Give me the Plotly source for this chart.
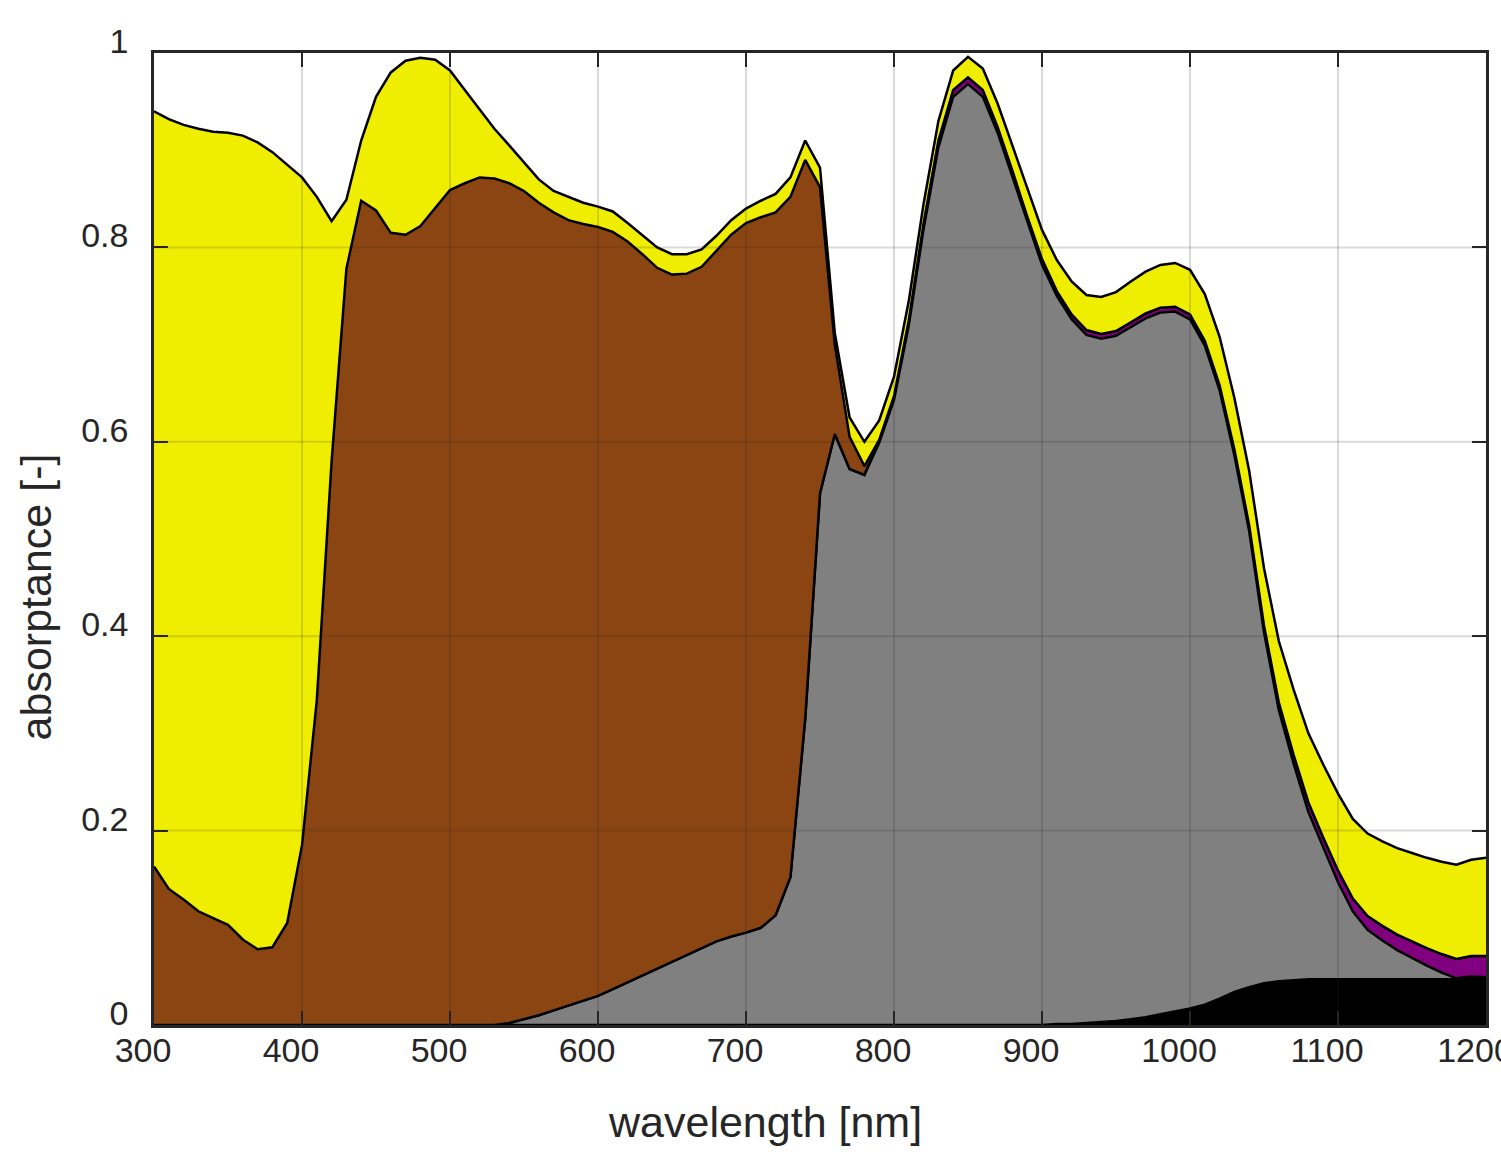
import plotly.graph_objects as go

wavelength = list(range(300, 1201, 10))

black = [0.0] * 61 + [
    0.001, 0.001, 0.002, 0.003, 0.004, 0.006, 0.008, 0.011, 0.014, 0.017,
    0.021, 0.027, 0.034, 0.039, 0.043, 0.045, 0.046, 0.047, 0.047, 0.047,
    0.047, 0.047, 0.047, 0.047, 0.047, 0.047, 0.047, 0.047, 0.047, 0.047]

gray = [0.0] * 24 + [
    0.002, 0.006, 0.010, 0.015, 0.020, 0.025,
    0.030, 0.037, 0.044, 0.051, 0.058, 0.065, 0.072, 0.079, 0.086, 0.091,
    0.095, 0.100, 0.113, 0.152, 0.315, 0.547, 0.608, 0.572, 0.566, 0.599,
    0.643, 0.720, 0.819, 0.903, 0.955, 0.968, 0.955, 0.918, 0.873, 0.826,
    0.782, 0.749, 0.725, 0.708, 0.703, 0.705, 0.712, 0.719, 0.722, 0.720,
    0.709, 0.678, 0.626, 0.552, 0.469, 0.361, 0.279, 0.223, 0.172, 0.135,
    0.100, 0.070, 0.051, 0.040, 0.030, 0.022, 0.014, 0.007, 0.001, 0.003,
    0.002]

purple = [0.0] * 49 + [
    0.003, 0.004, 0.005, 0.006, 0.007, 0.007, 0.007, 0.007, 0.006, 0.006,
    0.006, 0.006, 0.005, 0.005, 0.005, 0.005, 0.005, 0.005, 0.005, 0.005,
    0.005, 0.005, 0.005, 0.005, 0.006, 0.006, 0.007, 0.008, 0.009, 0.010,
    0.011, 0.012, 0.013, 0.014, 0.015, 0.016, 0.017, 0.018, 0.019, 0.020,
    0.021, 0.022]

brown = [
    0.163, 0.140, 0.129, 0.117, 0.110, 0.103, 0.088, 0.078, 0.080, 0.105,
    0.185, 0.334, 0.580, 0.778, 0.848, 0.838, 0.815, 0.813, 0.822, 0.840,
    0.859, 0.866, 0.872, 0.871, 0.864, 0.852, 0.836, 0.821, 0.808, 0.799,
    0.791, 0.779, 0.762, 0.742, 0.721, 0.707, 0.701, 0.701, 0.711, 0.722,
    0.730, 0.731, 0.723, 0.700, 0.575, 0.315, 0.092, 0.033, 0.009] + [0.0] * 42

yellow = [
    0.777, 0.792, 0.797, 0.805, 0.809, 0.815, 0.827, 0.830, 0.818, 0.780,
    0.687, 0.518, 0.247, 0.071, 0.062, 0.117, 0.165, 0.179, 0.173, 0.153,
    0.123, 0.096, 0.070, 0.051, 0.039, 0.030, 0.024, 0.022, 0.024, 0.022,
    0.021, 0.021, 0.019, 0.019, 0.021, 0.021, 0.020, 0.018, 0.015, 0.015,
    0.015, 0.017, 0.019, 0.020, 0.020, 0.020, 0.012, 0.020, 0.025,
    0.020, 0.020, 0.020, 0.020, 0.020, 0.020, 0.021, 0.022, 0.024, 0.026,
    0.028, 0.030,
    0.032, 0.034, 0.036, 0.038, 0.040, 0.042, 0.043, 0.044, 0.045, 0.046,
    0.048, 0.050, 0.053, 0.056, 0.059, 0.063, 0.067, 0.071, 0.075, 0.079,
    0.082, 0.085, 0.087, 0.089, 0.091, 0.093, 0.095, 0.097, 0.099, 0.101]

layer_names = ["black", "gray", "purple", "brown", "yellow"]
layer_values = [black, gray, purple, brown, yellow]
layer_colors = ["#000000", "#808080", "#800080", "#8B4513", "#F0EE00"]

x_ticks = [300, 400, 500, 600, 700, 800, 900, 1000, 1100, 1200]
x_ticklabels = ["300", "400", "500", "600", "700", "800", "900", "1000", "1100", "1200"]
y_ticks = [0, 0.2, 0.4, 0.6, 0.8, 1]
y_ticklabels = ["0", "0.2", "0.4", "0.6", "0.8", "1"]

FONT = "Liberation Sans, Arial, Helvetica, sans-serif"
AXC = "#262626"

fig = go.Figure()
for name, vals, col in zip(layer_names, layer_values, layer_colors):
    fig.add_trace(go.Scatter(
        x=wavelength, y=vals, name=name, mode="lines",
        stackgroup="one", fillcolor=col,
        line=dict(color="black", width=2.5),
        showlegend=False))

# grid drawn over the areas (MATLAB style)
grid_col = "rgba(38,38,38,0.17)"
for xv in x_ticks[1:-1]:
    fig.add_shape(type="line", xref="x", yref="y", x0=xv, x1=xv, y0=0, y1=1,
                  line=dict(color=grid_col, width=2), layer="above")
for yv in y_ticks[1:-1]:
    fig.add_shape(type="line", xref="x", yref="y", x0=300, x1=1200, y0=yv, y1=yv,
                  line=dict(color=grid_col, width=2), layer="above")

axis_common = dict(
    showgrid=False, zeroline=False, showline=True, linecolor=AXC, linewidth=2.5,
    mirror="allticks", ticks="inside", ticklen=14, tickwidth=2, tickcolor=AXC,
    layer="above traces", automargin=False, ticklabeloverflow="allow",
    tickfont=dict(family=FONT, size=34, color=AXC))

fig.update_xaxes(range=[300, 1200], tickvals=x_ticks, ticktext=x_ticklabels,
                 ticklabelshift=-11, ticklabelstandoff=-7, **axis_common)
fig.update_yaxes(range=[0, 1], tickvals=y_ticks, ticktext=y_ticklabels,
                 ticklabelshift=-12, ticklabelstandoff=16, **axis_common)

fig.add_annotation(text="wavelength [nm]", xref="paper", yref="paper",
                   x=0.4587, y=-0.0998, xanchor="center", yanchor="middle",
                   showarrow=False, font=dict(family=FONT, size=43, color=AXC))
fig.add_annotation(text="absorptance [-]", xref="paper", yref="paper",
                   x=-0.0886, y=0.4409, xanchor="center", yanchor="middle",
                   textangle=-90, showarrow=False,
                   font=dict(family=FONT, size=43, color=AXC))

fig.update_layout(
    template="none", width=1501, height=1157,
    margin=dict(l=154, r=15, t=53, b=132),
    paper_bgcolor="white", plot_bgcolor="white",
    showlegend=False)

fig.write_html("out.html")
